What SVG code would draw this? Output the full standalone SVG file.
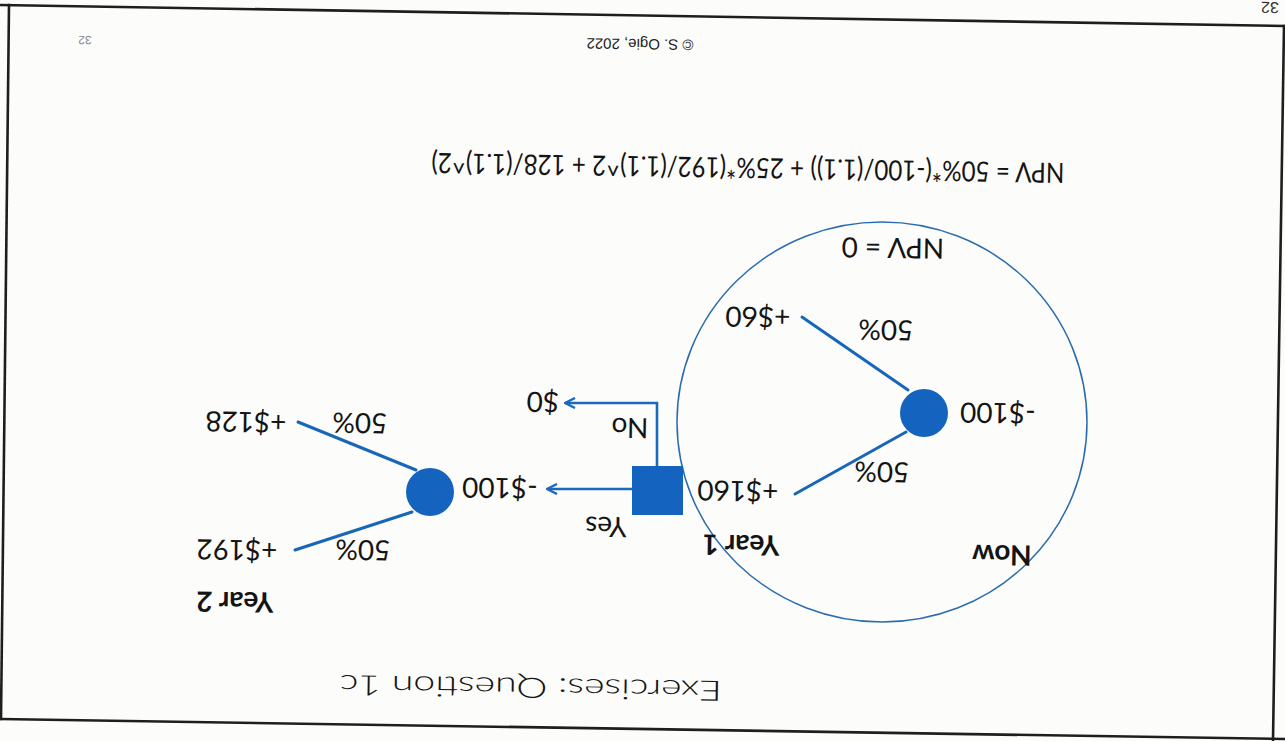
<svg xmlns="http://www.w3.org/2000/svg" width="1285" height="741" viewBox="0 0 1285 741">
  <style>
    .page { fill: #fcfcfa; }
    .frame { stroke: #1e1e1e; stroke-width: 2.6; fill: none; stroke-linecap: square; }
    .lbl { font-family: Lato, "Open Sans", "Liberation Sans", sans-serif; font-size: 28px; fill: #141414; text-anchor: middle; }
    .bold { font-weight: 700; }
    .small { font-family: "Liberation Sans", Arial, sans-serif; text-anchor: middle; }
    .branch { stroke: #1766b9; stroke-width: 3; fill: none; stroke-linecap: round; }
    .arrow { stroke: #1a69bd; stroke-width: 2.6; fill: none; }
    .chance { fill: #1463be; }
    .decision { fill: #1463be; }
    .ring { stroke: #2b6cb0; stroke-width: 1.5; fill: none; }
  </style>
  <defs>
    <marker id="head" viewBox="0 0 12 12" refX="11" refY="6" markerWidth="12" markerHeight="12" markerUnits="userSpaceOnUse" orient="auto">
      <path d="M1,1 L11,6 L1,11" fill="none" stroke="#1a69bd" stroke-width="2.4" stroke-linejoin="miter"/>
    </marker>
  </defs>

  <rect class="page" x="0" y="0" width="1285" height="741"/>

  <!-- page frame -->
  <g id="frame">
    <path class="frame" d="M0,5 L1284,26"/>
    <path class="frame" d="M1284,26 L1273,741"/>
    <path class="frame" d="M0,719 L1285,739"/>
    <path class="frame" d="M9,5 L1,719"/>
  </g>

  <!-- page header / footer texts (page printed upside down) -->
  <g id="page-texts">
    <text class="small" x="1270" y="2" font-size="16" fill="#333" transform="rotate(180.9 1270 2)">32</text>
    <text class="small" x="85" y="36" font-size="12" fill="#8a8a8a" transform="rotate(180.9 85 36)">32</text>
    <text class="small" x="640" y="39" font-size="15" fill="#222" transform="rotate(180.9 640 39)">© S. Ogie, 2022</text>
    <text class="lbl" x="748" y="158" textLength="633" lengthAdjust="spacingAndGlyphs" transform="rotate(180.9 748 158)">NPV = 50%*(-100/(1.1)) + 25%*(192/(1.1)^2 + 128/(1.1)^2)</text>
    <text class="lbl" x="531" y="678" font-size="40" font-weight="300" textLength="382" lengthAdjust="spacingAndGlyphs" transform="rotate(180.9 531 678)">Exercises: Question 1c</text>
  </g>

  <!-- connectors -->
  <g id="connectors">
    <line class="branch" x1="908" y1="390" x2="802" y2="317"/>
    <line class="branch" x1="906" y1="432" x2="795" y2="494"/>
    <polyline class="arrow" points="657,467 657,403 565,403" marker-end="url(#head)"/>
    <line class="arrow" x1="632" y1="489" x2="547" y2="489" marker-end="url(#head)"/>
    <line class="branch" x1="416" y1="470" x2="298" y2="422"/>
    <line class="branch" x1="412" y1="512" x2="295" y2="550"/>
  </g>

  <!-- highlighted "now" region -->
  <g id="npv-zero-region">
    <ellipse class="ring" cx="882" cy="422" rx="205" ry="200"/>
    <text class="lbl" x="893" y="238" transform="rotate(180.9 893 238)">NPV = 0</text>
  </g>

  <!-- chance node: now -->
  <g id="node-now">
    <circle class="chance" cx="924" cy="413" r="24"/>
    <text class="lbl" x="998" y="403" transform="rotate(180.9 998 403)">-$100</text>
    <text class="lbl bold" x="1002" y="545" transform="rotate(180.9 1002 545)">Now</text>
  </g>

  <!-- outcomes of the first chance node -->
  <g id="outcome-60">
    <text class="lbl" x="886" y="320" transform="rotate(180.9 886 320)">50%</text>
    <text class="lbl" x="758" y="307" transform="rotate(180.9 758 307)">+$60</text>
  </g>
  <g id="outcome-160">
    <text class="lbl" x="882" y="462" transform="rotate(180.9 882 462)">50%</text>
    <text class="lbl" x="738" y="481" transform="rotate(180.9 738 481)">+$160</text>
    <text class="lbl bold" x="741" y="535" transform="rotate(180.9 741 535)">Year 1</text>
  </g>

  <!-- decision node: invest again in year 1 -->
  <g id="node-decision">
    <rect class="decision" x="632" y="466" width="51" height="49"/>
    <text class="lbl" x="630" y="418" font-size="16" transform="rotate(180.9 630 418)">No</text>
    <text class="lbl" x="606" y="517" font-size="16" transform="rotate(180.9 606 517)">Yes</text>
  </g>
  <g id="outcome-zero">
    <text class="lbl" x="543" y="392" transform="rotate(180.9 543 392)">$0</text>
  </g>

  <!-- chance node: year 2 -->
  <g id="node-year2">
    <circle class="chance" cx="430" cy="492" r="24"/>
    <text class="lbl" x="500" y="478" transform="rotate(180.9 500 478)">-$100</text>
    <text class="lbl bold" x="235" y="592" transform="rotate(180.9 235 592)">Year 2</text>
  </g>
  <g id="outcome-128">
    <text class="lbl" x="360" y="413" transform="rotate(180.9 360 413)">50%</text>
    <text class="lbl" x="246" y="412" transform="rotate(180.9 246 412)">+$128</text>
  </g>
  <g id="outcome-192">
    <text class="lbl" x="363" y="540" transform="rotate(180.9 363 540)">50%</text>
    <text class="lbl" x="237" y="540" transform="rotate(180.9 237 540)">+$192</text>
  </g>
</svg>
